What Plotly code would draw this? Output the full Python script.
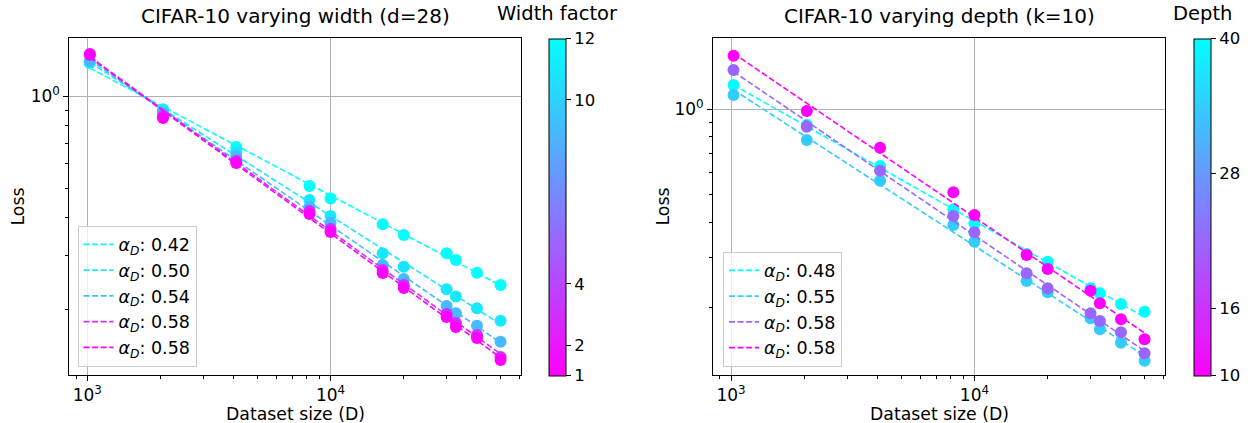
import numpy as np
import plotly.graph_objects as go

# ---------------- data ----------------
dataset_size = [1024, 2048, 4096, 8192, 10000, 16384, 20000, 30000, 32768, 40000, 50000]

# Left panel: varying width (d=28)
width_labels = ["0.42", "0.50", "0.54", "0.58", "0.58"]
loss_w_a = [1.282, 0.905, 0.681, 0.508, 0.462, 0.3805, 0.351, 0.3058, 0.2907, 0.2642, 0.2408]
loss_w_b = [1.291, 0.893, 0.656, 0.457, 0.405, 0.3058, 0.2764, 0.2331, 0.2206, 0.2021, 0.184]
loss_w_c = [1.302, 0.880, 0.636, 0.4334, 0.384, 0.280, 0.2519, 0.2056, 0.1946, 0.1772, 0.1571]
loss_w_d = [1.362, 0.860, 0.613, 0.4205, 0.367, 0.2697, 0.2408, 0.1936, 0.1809, 0.1652, 0.140]
loss_w_e = [1.372, 0.847, 0.604, 0.4111, 0.359, 0.2636, 0.2354, 0.1893, 0.1755, 0.1615, 0.1369]
width_series = [loss_w_a, loss_w_b, loss_w_c, loss_w_d, loss_w_e]
width_ticks = [1, 2, 4, 10, 12]

# Right panel: varying depth (k=10)
depth_labels = ["0.48", "0.55", "0.58", "0.58"]
loss_d_a = [1.218, 0.880, 0.632, 0.4444, 0.3968, 0.3093, 0.2906, 0.2343, 0.2250, 0.2062, 0.1938]
loss_d_b = [1.123, 0.780, 0.5605, 0.3915, 0.3418, 0.2485, 0.2268, 0.1837, 0.168, 0.1508, 0.1302]
loss_d_c = [1.375, 0.868, 0.608, 0.421, 0.3688, 0.2646, 0.2343, 0.1912, 0.1797, 0.164, 0.1383]
loss_d_d = [1.544, 0.986, 0.732, 0.510, 0.4244, 0.3069, 0.274, 0.2298, 0.2074, 0.1822, 0.1549]
depth_series = [loss_d_a, loss_d_b, loss_d_c, loss_d_d]
depth_ticks = [10, 16, 28, 40]

# ---------------- styles ----------------
width_colors = ["#00FFFF", "#17E8FF", "#45BAFF", "#D12EFF", "#FF00FF"]
depth_colors = ["#00FFFF", "#33CCFF", "#9966FF", "#FF00FF"]
FONT = "DejaVu Sans"
W, H = 1250, 423


def px_x(p):
    return p / W


def px_y(p):
    return 1 - p / H


fig = go.Figure()


def add_panel(series, labels, colors, xaxis, yaxis, legend):
    logx = np.log10(dataset_size)
    for ys, lab, col in zip(series, labels, colors):
        fig.add_trace(go.Scatter(
            x=dataset_size, y=ys, mode="markers", xaxis=xaxis, yaxis=yaxis,
            marker=dict(color=col, size=12, line=dict(width=0)),
            showlegend=False, hoverinfo="skip"))
        slope, icpt = np.polyfit(logx, np.log10(ys), 1)
        fit = 10 ** (icpt + slope * logx)
        fig.add_trace(go.Scatter(
            x=dataset_size, y=fit, mode="lines", xaxis=xaxis, yaxis=yaxis,
            line=dict(color=col, width=1.6, dash="6px,2.6px"),
            name="<i>α</i><sub><i>D</i></sub>: " + lab, legend=legend))


add_panel(width_series, width_labels, width_colors, "x", "y", "legend")
add_panel(depth_series, depth_labels, depth_colors, "x2", "y2", "legend2")

# colorbars (dummy traces)
cb_common = dict(thickness=17, len=(375.7 - 38.3) / H, lenmode="fraction",
                 yanchor="bottom", y=px_y(375.7), xanchor="left", xpad=0, ypad=0,
                 outlinewidth=1, outlinecolor="black", ticks="outside", ticklen=5,
                 tickcolor="black", tickfont=dict(family=FONT, size=16.5, color="black"))
fig.add_trace(go.Scatter(
    x=[None], y=[None], mode="markers", xaxis="x", yaxis="y", showlegend=False,
    marker=dict(color=[1], cmin=1, cmax=12,
                colorscale=[[0, "#FF00FF"], [1, "#00FFFF"]], showscale=True,
                colorbar=dict(x=px_x(549), tickvals=width_ticks, **cb_common))))
fig.add_trace(go.Scatter(
    x=[None], y=[None], mode="markers", xaxis="x2", yaxis="y2", showlegend=False,
    marker=dict(color=[10], cmin=10, cmax=40,
                colorscale=[[0, "#FF00FF"], [1, "#00FFFF"]], showscale=True,
                colorbar=dict(x=px_x(1193.5), tickvals=depth_ticks, **cb_common))))

xrange = [2.926, 4.783]
ax_common = dict(type="log", showline=True, linecolor="black", linewidth=1, mirror=True,
                 ticks="outside", ticklen=5, tickcolor="black", showgrid=True,
                 gridcolor="#b0b0b0", gridwidth=1, zeroline=False,
                 tickfont=dict(family=FONT, size=17, color="black"),
                 minor=dict(ticks="outside", ticklen=3, tickcolor="black", dtick="D1",
                            showgrid=False))
ydom = [px_y(375), px_y(38)]
leg_common = dict(xanchor="left", yanchor="bottom", y=px_y(366.5),
                  bgcolor="rgba(255,255,255,0.8)", bordercolor="#cccccc", borderwidth=1,
                  font=dict(family=FONT, size=17.5, color="black"))
fig.update_layout(
    width=W, height=H, margin=dict(l=0, r=0, t=0, b=0),
    plot_bgcolor="white", paper_bgcolor="white",
    font=dict(family=FONT, size=16, color="black"),
    xaxis=dict(domain=[px_x(69.3), px_x(521)], range=xrange, anchor="y",
               tickvals=[1000, 10000], ticktext=["10<sup>3</sup>", "10<sup>4</sup>"], **ax_common),
    yaxis=dict(domain=ydom, range=[-0.913, 0.190], anchor="x",
               tickvals=[1], ticktext=["10<sup>0</sup>"], **ax_common),
    xaxis2=dict(domain=[px_x(713), px_x(1165)], range=xrange, anchor="y2",
                tickvals=[1000, 10000], ticktext=["10<sup>3</sup>", "10<sup>4</sup>"], **ax_common),
    yaxis2=dict(domain=ydom, range=[-0.9355, 0.251], anchor="x2",
                tickvals=[1], ticktext=["10<sup>0</sup>"], **ax_common),
    legend=dict(x=px_x(77.5), **leg_common),
    legend2=dict(x=px_x(723), **leg_common),
)

ann = []
for txt, cx in [("CIFAR-10 varying width (d=28)", 295), ("CIFAR-10 varying depth (k=10)", 939)]:
    ann.append(dict(text=txt, x=px_x(cx), y=px_y(30), xref="paper", yref="paper",
                    xanchor="center", yanchor="bottom", showarrow=False,
                    font=dict(family=FONT, size=20, color="black")))
for txt, cx in [("Width factor", 557), ("Depth", 1202)]:
    ann.append(dict(text=txt, x=px_x(cx), y=px_y(27), xref="paper", yref="paper",
                    xanchor="center", yanchor="bottom", showarrow=False,
                    font=dict(family=FONT, size=19.5, color="black")))
for cx in [295, 939]:
    ann.append(dict(text="Dataset size (D)", x=px_x(cx), y=px_y(413.5), xref="paper", yref="paper",
                    xanchor="center", yanchor="middle", showarrow=False,
                    font=dict(family=FONT, size=17.3, color="black")))
for cx in [17, 662]:
    ann.append(dict(text="Loss", x=px_x(cx), y=px_y(206.5), xref="paper", yref="paper",
                    xanchor="center", yanchor="middle", showarrow=False, textangle=-90,
                    font=dict(family=FONT, size=17.3, color="black")))
fig.update_layout(annotations=ann)

fig.write_html("out.html")
